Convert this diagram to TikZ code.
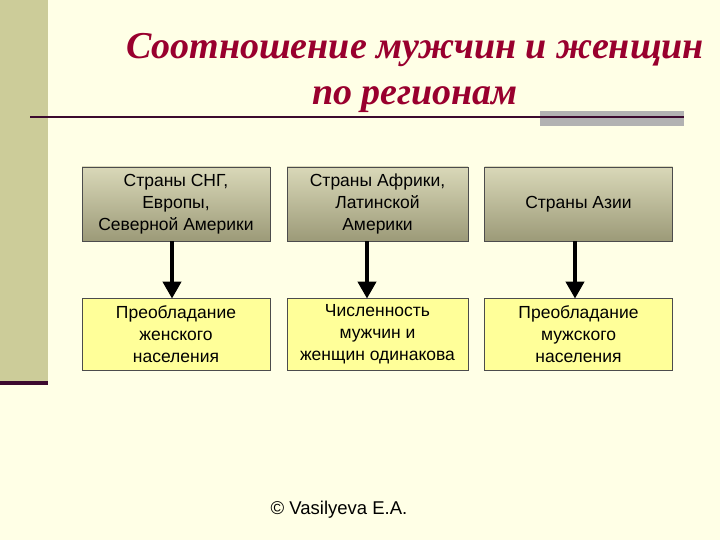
\documentclass[tikz,border=0pt]{standalone}
\usepackage{fontspec}
\setmainfont{Liberation Serif}
\setsansfont{Liberation Sans}
\usetikzlibrary{arrows.meta}
\definecolor{bg}{HTML}{FFFFE6}
\definecolor{bar}{HTML}{CCCC99}
\definecolor{plum}{HTML}{3C0A2E}
\definecolor{titlec}{HTML}{99002E}
\definecolor{khtop}{HTML}{D9D8B8}
\definecolor{khbot}{HTML}{9C9A78}
\definecolor{yel}{HTML}{FFFF99}
\tikzset{
  topbox/.style={draw=black!70, line width=0.8pt, top color=khtop, bottom color=khbot,
    minimum width=188pt, minimum height=74pt, align=center, inner sep=2pt,
    font=\sffamily\fontsize{17.5}{22}\selectfont},
  botbox/.style={draw=black!70, line width=0.8pt, fill=yel,
    minimum width=188pt, minimum height=72pt, align=center, inner sep=2pt,
    font=\sffamily\fontsize{17.5}{22}\selectfont},
  conn/.style={line width=4pt, -{Triangle[length=17pt,width=18pt]}, shorten >=-1pt},
}
\begin{document}
\begin{tikzpicture}[x=1pt,y=-1pt]
\useasboundingbox (0,0) rectangle (720,540);
\fill[bg] (0,0) rectangle (720,540);
\fill[bar] (0,0) rectangle (48,382);
\fill[plum] (0,381) rectangle (48,385);
\fill[black!30] (540,111) rectangle (684,126);
\draw[plum, line width=2pt] (30,117) -- (684,117);
\node[font=\bfseries\itshape\fontsize{38}{46}\selectfont, text=titlec, align=center] (title) at (415,73)
  {Соотношение мужчин и женщин\\по регионам};
\node[topbox] (t1) at (176,204) {Страны СНГ,\\Европы,\\Северной Америки};
\node[topbox, minimum width=181pt] (t2) at (377.5,204) {Страны Африки,\\Латинской\\Америки};
\node[topbox] (t3) at (578.5,204) {Страны Азии};
\node[botbox] (b1) at (176,334) {Преобладание\\женского\\населения};
\node[botbox, minimum width=181pt] (b2) at (377.5,334) {Численность\\мужчин и\\женщин одинакова};
\node[botbox] (b3) at (578.5,334) {Преобладание\\мужского\\населения};
\draw[conn] (t1.south -| 172,0) -- (b1.north -| 172,0);
\draw[conn] (t2.south -| 367,0) -- (b2.north -| 367,0);
\draw[conn] (t3.south -| 575,0) -- (b3.north -| 575,0);
\node[font=\sffamily\fontsize{18.5}{22}\selectfont] (foot) at (339,510) {© Vasilyeva E.A.};
\end{tikzpicture}
\end{document}
